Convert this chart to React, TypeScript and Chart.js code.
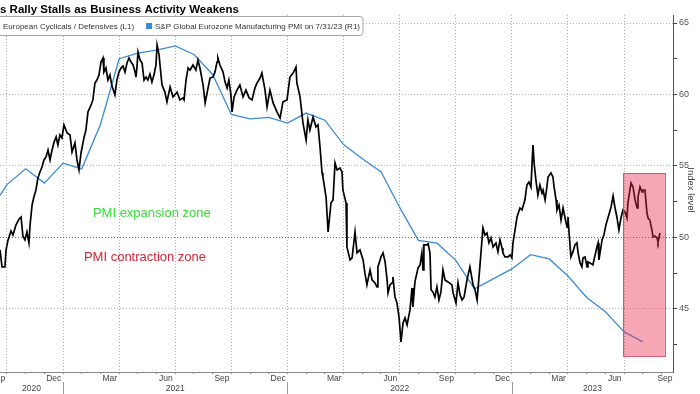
import React, { useEffect, useRef } from "react";
import { Chart, registerables } from "chart.js";

Chart.register(...registerables);

// ---- Data (x in decimal years, y in right-axis index units) ----
const cycDates = [
  2020.719, 2020.728, 2020.741, 2020.746, 2020.755, 2020.768, 2020.777, 2020.790, 2020.804, 2020.813,
  2020.821, 2020.830, 2020.839, 2020.848, 2020.853, 2020.862, 2020.870, 2020.879, 2020.888, 2020.897,
  2020.906, 2020.915, 2020.924, 2020.933, 2020.942, 2020.951, 2020.960, 2020.969, 2020.977, 2020.986,
  2020.995, 2021.004, 2021.018, 2021.031, 2021.040, 2021.053, 2021.062, 2021.071, 2021.080, 2021.093,
  2021.102, 2021.111, 2021.125, 2021.133, 2021.142, 2021.151, 2021.160, 2021.169, 2021.178, 2021.182,
  2021.191, 2021.200, 2021.209, 2021.218, 2021.227, 2021.231, 2021.240, 2021.249, 2021.258, 2021.267,
  2021.276, 2021.285, 2021.294, 2021.303, 2021.312, 2021.321, 2021.325, 2021.329, 2021.334, 2021.343,
  2021.352, 2021.361, 2021.370, 2021.378, 2021.387, 2021.396, 2021.405, 2021.414, 2021.419, 2021.428,
  2021.432, 2021.441, 2021.454, 2021.463, 2021.477, 2021.490, 2021.508, 2021.521, 2021.534, 2021.539,
  2021.548, 2021.557, 2021.566, 2021.579, 2021.592, 2021.601, 2021.610, 2021.624, 2021.633, 2021.646,
  2021.655, 2021.668, 2021.677, 2021.686, 2021.690, 2021.699, 2021.713, 2021.722, 2021.731, 2021.739,
  2021.748, 2021.753, 2021.762, 2021.775, 2021.788, 2021.802, 2021.815, 2021.829, 2021.842, 2021.855,
  2021.864, 2021.878, 2021.886, 2021.900, 2021.909, 2021.922, 2021.936, 2021.953, 2021.967, 2021.980,
  2021.998, 2022.011, 2022.025, 2022.038, 2022.042, 2022.056, 2022.069, 2022.083, 2022.091, 2022.100,
  2022.114, 2022.127, 2022.136, 2022.145, 2022.154, 2022.158, 2022.172, 2022.181, 2022.194, 2022.203,
  2022.212, 2022.221, 2022.234, 2022.243, 2022.247, 2022.261, 2022.265, 2022.279, 2022.288, 2022.301,
  2022.310, 2022.323, 2022.337, 2022.345, 2022.354, 2022.368, 2022.377, 2022.390, 2022.399, 2022.403,
  2022.417, 2022.426, 2022.435, 2022.444, 2022.448, 2022.457, 2022.466, 2022.470, 2022.479, 2022.488,
  2022.497, 2022.506, 2022.515, 2022.524, 2022.533, 2022.546, 2022.555, 2022.559, 2022.568, 2022.582,
  2022.591, 2022.599, 2022.604, 2022.608, 2022.622, 2022.626, 2022.635, 2022.640, 2022.648, 2022.657,
  2022.666, 2022.675, 2022.684, 2022.693, 2022.702, 2022.715, 2022.733, 2022.738, 2022.751, 2022.760,
  2022.769, 2022.778, 2022.787, 2022.800, 2022.813, 2022.827, 2022.836, 2022.845, 2022.858, 2022.871,
  2022.880, 2022.889, 2022.898, 2022.907, 2022.916, 2022.929, 2022.938, 2022.947, 2022.956, 2022.960,
  2022.969, 2022.983, 2022.992, 2023.000, 2023.005, 2023.014, 2023.023, 2023.036, 2023.045, 2023.058,
  2023.067, 2023.076, 2023.085, 2023.094, 2023.099, 2023.107, 2023.116, 2023.125, 2023.134, 2023.139,
  2023.148, 2023.156, 2023.161, 2023.174, 2023.183, 2023.188, 2023.197, 2023.201, 2023.210, 2023.219,
  2023.228, 2023.237, 2023.246, 2023.250, 2023.255, 2023.263, 2023.272, 2023.281, 2023.290, 2023.295,
  2023.304, 2023.312, 2023.317, 2023.326, 2023.335, 2023.339, 2023.348, 2023.361, 2023.379, 2023.384,
  2023.388, 2023.402, 2023.410, 2023.419, 2023.428, 2023.442, 2023.451, 2023.459, 2023.468, 2023.477,
  2023.486, 2023.495, 2023.504, 2023.513, 2023.517, 2023.531, 2023.540, 2023.549, 2023.558, 2023.562,
  2023.571, 2023.580, 2023.584, 2023.593, 2023.602, 2023.607, 2023.615, 2023.624, 2023.629, 2023.638,
  2023.647, 2023.651, 2023.660,
];

const cycValues = [
  49.13, 47.94, 47.94, 49.13, 49.83, 50.45, 50.17, 50.87, 51.29, 51.43,
  50.10, 49.83, 50.38, 49.62, 50.87, 52.27, 52.83, 53.32, 54.16, 54.58,
  54.93, 55.42, 55.63, 56.12, 55.42, 56.12, 56.68, 57.03, 56.47, 57.17,
  56.96, 57.87, 57.31, 57.17, 55.98, 56.61, 55.42, 54.72, 55.91, 56.96,
  57.52, 58.78, 59.27, 59.62, 60.80, 61.01, 61.36, 62.27, 62.55, 61.57,
  61.85, 61.01, 61.36, 60.59, 60.17, 59.97, 61.01, 61.57, 61.85, 61.99,
  61.57, 62.20, 62.55, 62.27, 62.06, 61.57, 61.22, 61.85, 62.97, 62.41,
  62.20, 61.01, 61.22, 61.01, 61.43, 60.87, 61.36, 62.06, 63.46, 62.76,
  62.06, 60.66, 60.17, 59.48, 60.52, 59.83, 60.17, 59.62, 59.76, 59.62,
  61.01, 61.85, 61.71, 62.06, 61.71, 62.41, 61.85, 60.66, 59.41, 60.45,
  61.15, 61.22, 61.57, 62.27, 62.55, 62.06, 61.57, 60.87, 60.45, 61.01,
  59.97, 58.78, 59.83, 60.31, 60.66, 59.83, 60.31, 59.76, 59.62, 60.45,
  60.80, 61.15, 61.50, 60.31, 59.13, 60.31, 59.41, 58.78, 58.36, 59.48,
  59.62, 61.22, 61.50, 61.92, 60.80, 59.83, 58.01, 56.82, 58.22, 57.52,
  58.43, 57.73, 57.87, 56.33, 54.51, 54.23, 52.83, 50.38, 52.41, 52.62,
  55.21, 54.72, 54.86, 54.58, 53.32, 52.41, 49.34, 48.43, 48.57, 50.38,
  48.92, 49.13, 48.43, 47.52, 46.68, 47.73, 47.03, 46.82, 46.54, 47.94,
  48.64, 48.92, 48.29, 47.03, 46.12, 46.68, 46.82, 47.24, 45.84, 45.42,
  44.44, 42.69, 44.02, 44.37, 43.88, 44.93, 46.47, 45.14, 46.89, 47.87,
  48.08, 48.92, 47.73, 49.48, 49.48, 49.62, 48.92, 46.33, 46.19, 45.84,
  46.54, 45.63, 46.19, 47.73, 47.03, 46.89, 46.68, 46.12, 45.42, 46.82,
  45.98, 45.63, 45.84, 47.03, 47.94, 46.68, 46.33, 45.63, 48.08, 50.66,
  50.17, 50.31, 49.62, 49.97, 49.34, 49.62, 48.99, 49.83, 49.27, 48.92,
  48.64, 48.64, 48.78, 48.57, 49.62, 50.52, 51.43, 52.06, 51.92, 52.62,
  53.67, 53.88, 53.53, 56.47, 55.21, 54.02, 52.97, 53.67, 53.11, 53.32,
  52.62, 53.53, 54.23, 54.51, 54.23, 53.53, 52.62, 51.92, 52.27, 51.22,
  52.06, 51.36, 50.73, 51.43, 50.31, 48.64, 48.99, 49.48, 49.62, 48.92,
  48.22, 47.94, 48.57, 48.64, 47.94, 48.29, 48.22, 48.08, 49.34, 49.62,
  48.43, 49.83, 50.17, 50.87, 51.36, 52.13, 52.90, 52.13, 51.43, 50.52,
  51.36, 51.92, 51.78, 51.36, 52.41, 53.81, 53.53, 52.62, 52.06, 52.83,
  53.53, 53.18, 53.32, 53.32, 51.71, 51.36, 51.22, 50.52, 50.03, 50.10,
  49.97, 49.69, 50.31,
];

const pmiMonths = [
  "2020-08", "2020-09", "2020-10", "2020-11", "2020-12",
  "2021-01", "2021-02", "2021-03", "2021-04", "2021-05", "2021-06",
  "2021-07", "2021-08", "2021-09", "2021-10", "2021-11", "2021-12",
  "2022-01", "2022-02", "2022-03", "2022-04", "2022-05", "2022-06",
  "2022-07", "2022-08", "2022-09", "2022-10", "2022-11", "2022-12",
  "2023-01", "2023-02", "2023-03", "2023-04", "2023-05", "2023-06", "2023-07",
];
const pmiValues = [
  51.7, 53.7, 54.8, 53.8, 55.2,
  54.8, 57.9, 62.5, 62.9, 63.1, 63.4,
  62.8, 61.4, 58.6, 58.3, 58.4, 58.0,
  58.7, 58.2, 56.5, 55.5, 54.6, 52.1,
  49.8, 49.6, 48.4, 46.4, 47.1, 47.8,
  48.8, 48.5, 47.3, 45.8, 44.8, 43.4, 42.7,
];

const axisMonthLabels = [
  "2020-09", "2020-12", "2021-03", "2021-06", "2021-09", "2021-12",
  "2022-03", "2022-06", "2022-09", "2022-12", "2023-03", "2023-06", "2023-09",
];
const MONTH_NAMES = ["Jan", "Feb", "Mar", "Apr", "May", "Jun", "Jul", "Aug", "Sep", "Oct", "Nov", "Dec"];
const yearLabels = ["2020", "2021", "2022", "2023"];
const yTickValues = [42.5, 45, 47.5, 50, 52.5, 55, 57.5, 60, 62.5, 65];

const TITLE = "s Rally Stalls as Business Activity Weakens";
const LEGEND_1 = "European Cyclicals / Defensives (L1)";
const LEGEND_2 = "S&P Global Eurozone Manufacturing PMI on 7/31/23 (R1)";
const Y_TITLE = "Index level";
const ZONE_UP = "PMI expansion zone";
const ZONE_DOWN = "PMI contraction zone";

// highlight box (decimal year / index units)
const zoneBox = { x0: 2023.495, x1: 2023.682, yTop: 54.5, yBottom: 41.7 };
const labelUpPos = { x: 2021.133, y: 51.71 };
const labelDownPos = { x: 2021.093, y: 48.57 };

const X_MIN = 2020.719;
const X_MAX = 2023.718;
const Y_MIN = 40.59;
const Y_MAX = 65.56;

const FONT = '"Liberation Sans", Arial, sans-serif';
const BLUE = "#3b8bd4";

function monthEnd(s: string) {
  const [y, m] = s.split("-").map(Number);
  return y + m / 12;
}
function monthMid(s: string) {
  const [y, m] = s.split("-").map(Number);
  return y + (m - 0.5) / 12;
}

const monthTicks: number[] = [];
for (let yr = 2020; yr <= 2023; yr++) {
  for (let m = 0; m < 12; m++) {
    const v = yr + m / 12;
    if (v >= X_MIN && v <= X_MAX) monthTicks.push(v);
  }
}
const isQuarter = (v: number) => Math.round(v * 12) % 3 === 0;

const overlayPlugin = {
  id: "overlay",
  afterDatasetsDraw(chart: any) {
    const { ctx, scales } = chart;
    const x = scales.x;
    const y = scales.y;
    ctx.save();
    const bx0 = x.getPixelForValue(zoneBox.x0);
    const bx1 = x.getPixelForValue(zoneBox.x1);
    const by0 = y.getPixelForValue(zoneBox.yTop);
    const by1 = y.getPixelForValue(zoneBox.yBottom);
    ctx.fillStyle = "rgba(236, 42, 78, 0.42)";
    ctx.fillRect(bx0, by0, bx1 - bx0, by1 - by0);
    ctx.strokeStyle = "rgba(205, 70, 105, 0.85)";
    ctx.lineWidth = 1;
    ctx.strokeRect(Math.round(bx0) + 0.5, Math.round(by0) + 0.5, Math.round(bx1 - bx0), Math.round(by1 - by0));

    ctx.font = `13px ${FONT}`;
    ctx.textAlign = "left";
    ctx.textBaseline = "middle";
    ctx.fillStyle = "#3ad83a";
    ctx.fillText(ZONE_UP, x.getPixelForValue(labelUpPos.x), y.getPixelForValue(labelUpPos.y));
    ctx.fillStyle = "#d42436";
    ctx.fillText(ZONE_DOWN, x.getPixelForValue(labelDownPos.x), y.getPixelForValue(labelDownPos.y));
    ctx.restore();
  },
  afterDraw(chart: any) {
    const { ctx, chartArea, scales } = chart;
    const x = scales.x;
    ctx.save();

    // x month labels
    ctx.font = `8.5px ${FONT}`;
    ctx.fillStyle = "#444";
    ctx.textAlign = "center";
    ctx.textBaseline = "middle";
    axisMonthLabels.forEach((s) => {
      const m = Number(s.split("-")[1]);
      let px = x.getPixelForValue(monthMid(s));
      px = Math.min(px, chartArea.right - 8);
      ctx.fillText(MONTH_NAMES[m - 1], px, 378.5);
    });

    // years and separators
    ctx.strokeStyle = "#999";
    ctx.lineWidth = 1;
    yearLabels.forEach((s) => {
      const yr = Number(s);
      const a = Math.max(chartArea.left, x.getPixelForValue(yr));
      const b = Math.min(chartArea.right, x.getPixelForValue(yr + 1));
      ctx.fillText(s, (a + b) / 2, 388.5);
      const sx = Math.round(x.getPixelForValue(yr)) + 0.5;
      if (sx > chartArea.left && sx < chartArea.right) {
        ctx.beginPath();
        ctx.moveTo(sx, 382);
        ctx.lineTo(sx, 394);
        ctx.stroke();
      }
    });

    // right axis title
    ctx.save();
    ctx.translate(691, 190);
    ctx.rotate(Math.PI / 2);
    ctx.font = `9.5px ${FONT}`;
    ctx.fillStyle = "#444";
    ctx.textAlign = "center";
    ctx.textBaseline = "middle";
    ctx.fillText(Y_TITLE, 0, 0);
    ctx.restore();

    // title
    ctx.font = `bold 11.5px ${FONT}`;
    ctx.fillStyle = "#000";
    ctx.textAlign = "left";
    ctx.textBaseline = "middle";
    ctx.fillText(TITLE, 0, 10);

    // legend box
    ctx.beginPath();
    const lx = -6, ly = 16.5, lw = 369, lh = 19, r = 3;
    ctx.moveTo(lx + r, ly);
    ctx.lineTo(lx + lw - r, ly);
    ctx.quadraticCurveTo(lx + lw, ly, lx + lw, ly + r);
    ctx.lineTo(lx + lw, ly + lh - r);
    ctx.quadraticCurveTo(lx + lw, ly + lh, lx + lw - r, ly + lh);
    ctx.lineTo(lx + r, ly + lh);
    ctx.quadraticCurveTo(lx, ly + lh, lx, ly + lh - r);
    ctx.lineTo(lx, ly + r);
    ctx.quadraticCurveTo(lx, ly, lx + r, ly);
    ctx.closePath();
    ctx.fillStyle = "#fff";
    ctx.fill();
    ctx.strokeStyle = "#a8a8a8";
    ctx.stroke();

    ctx.font = `8px ${FONT}`;
    ctx.fillStyle = "#333";
    ctx.fillText(LEGEND_1, 3, 26.5);
    ctx.fillStyle = BLUE;
    ctx.fillRect(146, 23, 6, 6);
    ctx.fillStyle = "#333";
    ctx.fillText(LEGEND_2, 155, 26.5);

    ctx.restore();
  },
};

export default function App() {
  const canvasRef = useRef<HTMLCanvasElement | null>(null);

  useEffect(() => {
    const canvas = canvasRef.current;
    if (!canvas) return;
    const chart = new Chart(canvas, {
      type: "line",
      data: {
        datasets: [
          {
            label: LEGEND_1,
            data: cycDates.map((t, i) => ({ x: t, y: cycValues[i] })),
            borderColor: "#000",
            borderWidth: 1.7,
            pointRadius: 0,
            tension: 0,
            fill: false,
          },
          {
            label: LEGEND_2,
            data: pmiMonths.map((s, i) => ({ x: monthEnd(s), y: pmiValues[i] })),
            borderColor: BLUE,
            borderWidth: 1.3,
            pointRadius: 0,
            tension: 0,
            fill: false,
          },
        ],
      },
      options: {
        animation: false,
        responsive: false,
        devicePixelRatio: 1,
        layout: { padding: { top: 15, left: 0, right: 0, bottom: 0 } },
        plugins: { legend: { display: false }, tooltip: { enabled: false } },
        scales: {
          x: {
            type: "linear",
            min: X_MIN,
            max: X_MAX,
            afterBuildTicks: (s: any) => {
              s.ticks = monthTicks.map((v) => ({ value: v }));
            },
            afterFit: (s: any) => {
              s.height = 22;
            },
            ticks: { display: false, autoSkip: false },
            grid: {
              color: (c: any) => (c.tick && isQuarter(c.tick.value) ? "#aaaaaa" : "rgba(0,0,0,0)"),
              tickColor: "#888",
              tickLength: 2,
              lineWidth: 1,
            },
            border: { display: true, color: "#8c8c8c", width: 1, dash: [1, 2] },
          },
          y: {
            type: "linear",
            position: "right",
            min: Y_MIN,
            max: Y_MAX,
            afterBuildTicks: (s: any) => {
              s.ticks = yTickValues.map((v) => ({ value: v }));
            },
            afterFit: (s: any) => {
              s.width = 27;
            },
            ticks: {
              autoSkip: false,
              callback: (v: any) => (Number(v) % 5 === 0 ? String(v) : ""),
              color: "#555",
              font: { family: FONT, size: 9 },
              padding: 2,
            },
            grid: {
              color: (c: any) => {
                const v = c.tick ? c.tick.value : 0;
                if (v % 5 !== 0) return "rgba(0,0,0,0)";
                return v === 50 ? "#6f6f6f" : "#b5b5b5";
              },
              tickColor: "#444",
              tickLength: 4,
              lineWidth: 1,
            },
            border: { display: true, color: "#555", width: 1, dash: [1, 2] },
          },
        },
      },
      plugins: [overlayPlugin],
    } as any);
    return () => chart.destroy();
  }, []);

  return (
    <div style={{ position: "fixed", left: 0, top: 0, width: 700, height: 394, background: "#fff" }}>
      <canvas ref={canvasRef} width={700} height={394} style={{ display: "block", width: 700, height: 394 }} />
    </div>
  );
}
